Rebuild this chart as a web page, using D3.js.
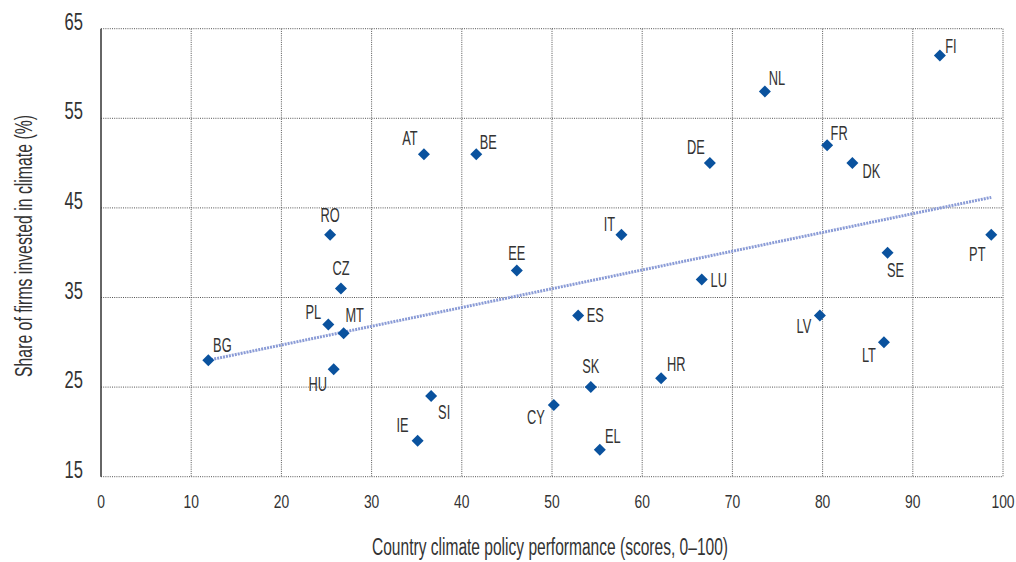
<!DOCTYPE html>
<html>
<head>
<meta charset="utf-8">
<script src="https://cdn.jsdelivr.net/npm/d3@7"></script>
<style>
  html, body { margin: 0; padding: 0; background: #fff; }
  svg { display: block; }
  text { font-family: "Liberation Sans", Arial, sans-serif; fill: #333; }
</style>
</head>
<body>
<svg id="chart" width="1016" height="562"></svg>
<script>
// ---- data ----
const countries = ["BG","PL","MT","HU","RO","CZ","AT","BE","SI","IE","EE","ES","CY","SK","EL","IT","HR","LU","DE","NL","LV","FR","DK","LT","SE","FI","PT"];
const policyScore = [11.9,25.2,26.9,25.8,25.4,26.6,35.8,41.6,36.6,35.1,46.1,52.9,50.2,54.3,55.3,57.7,62.1,66.6,67.5,73.6,79.7,80.5,83.3,86.8,87.2,93.0,98.7];
const shareInvested = [28,32,31,27,42,36,51,51,24,19,38,33,23,25,18,42,26,37,50,58,33,52,50,30,40,62,42];
const xTicks = [0,10,20,30,40,50,60,70,80,90,100];
const yTicks = [15,25,35,45,55,65];
const xTitle = "Country climate policy performance (scores, 0\u2013100)";
const yTitle = "Share of firms  invested in climate (%)";

// label placement (styling, in px relative to marker)
const labelOffset = {
  BG:[14,-15], PL:[-15,-12], MT:[11,-18], HU:[-16,15], RO:[0,-20], CZ:[0,-21],
  AT:[-14,-16], BE:[12,-12], SI:[13,16], IE:[-15,-16], EE:[0,-18], ES:[17,0],
  CY:[-18,12], SK:[0,-21], EL:[13,-14], IT:[-12,-11], HR:[15,-14], LU:[17,0],
  DE:[-14,-16], NL:[12,-13], LV:[-16,11], FR:[12,-12], DK:[19,8], LT:[-15,13],
  SE:[8,17], FI:[11,-10], PT:[-14,19]
};

const svg = d3.select("#chart");
const m = {left:101, right:1003, top:28.7, bottom:476.7};
const x = d3.scaleLinear().domain([0,100]).range([m.left, m.right]);
const y = d3.scaleLinear().domain([15,65]).range([m.bottom, m.top]);

// condensed text helper: horizontal squeeze to mimic a condensed face
function ctext(g, px, py, str, size, sx, anchor, baseline) {
  const t = g.append("text")
    .attr("transform", `translate(${px},${py}) scale(${sx},1)`)
    .attr("font-size", size)
    .attr("text-anchor", anchor || "middle")
    .text(str);
  if (baseline) t.attr("dominant-baseline", baseline);
  return t;
}

// gridlines
const grid = svg.append("g");
grid.selectAll("line.h").data(yTicks).enter().append("line")
  .attr("x1", m.left).attr("x2", m.right)
  .attr("y1", d => y(d)).attr("y2", d => y(d))
  .attr("stroke", "#555").attr("stroke-width", 1).attr("stroke-dasharray", "1,1.2");
grid.selectAll("line.v").data(xTicks.filter(d => d > 0)).enter().append("line")
  .attr("y1", m.top).attr("y2", m.bottom)
  .attr("x1", d => x(d)).attr("x2", d => x(d))
  .attr("stroke", "#555").attr("stroke-width", 1).attr("stroke-dasharray", "1,1.2");

// left axis line
svg.append("line").attr("x1", x(0)).attr("x2", x(0)).attr("y1", m.top).attr("y2", m.bottom)
  .attr("stroke", "#333").attr("stroke-width", 1.5);

// tick labels
const gx = svg.append("g");
xTicks.forEach(d => ctext(gx, x(d), 508, d, 18.5, 0.75, "middle"));
const gy = svg.append("g");
yTicks.forEach(d => ctext(gy, 83, y(d) + 1, d, 23, 0.72, "end"));

// titles
svg.append("text").attr("x", 550).attr("y", 555).attr("text-anchor", "middle")
  .attr("font-size", 23).attr("textLength", 356).attr("lengthAdjust", "spacingAndGlyphs")
  .text(xTitle);
svg.append("text").attr("transform", "translate(32,246) rotate(-90)").attr("text-anchor", "middle")
  .attr("font-size", 23).attr("textLength", 262).attr("lengthAdjust", "spacingAndGlyphs")
  .text(yTitle);

// linear trend (OLS on data)
const n = policyScore.length;
const mx = d3.mean(policyScore), my = d3.mean(shareInvested);
let sxy = 0, sxx = 0;
for (let i = 0; i < n; i++) { sxy += (policyScore[i]-mx)*(shareInvested[i]-my); sxx += (policyScore[i]-mx)**2; }
const slope = sxy / sxx, icpt = my - slope * mx;
const x0 = d3.min(policyScore), x1 = d3.max(policyScore);
svg.append("line")
  .attr("x1", x(x0)).attr("y1", y(icpt + slope*x0))
  .attr("x2", x(x1)).attr("y2", y(icpt + slope*x1))
  .attr("stroke", "#8a9bd6").attr("stroke-width", 3).attr("stroke-dasharray", "2,1");

// points
const pts = countries.map((c,i) => ({c, x: policyScore[i], y: shareInvested[i]}));
svg.append("g").selectAll("path").data(pts).enter().append("path")
  .attr("d", d3.symbol(d3.symbolSquare, 72))
  .attr("transform", d => `translate(${x(d.x)},${y(d.y)}) rotate(45)`)
  .attr("fill", "#0a529e");

// labels
const gl = svg.append("g");
pts.forEach(d => ctext(gl, x(d.x) + labelOffset[d.c][0], y(d.y) + labelOffset[d.c][1] + 7,
  d.c, 20, 0.64, "middle"));
</script>
</body>
</html>
